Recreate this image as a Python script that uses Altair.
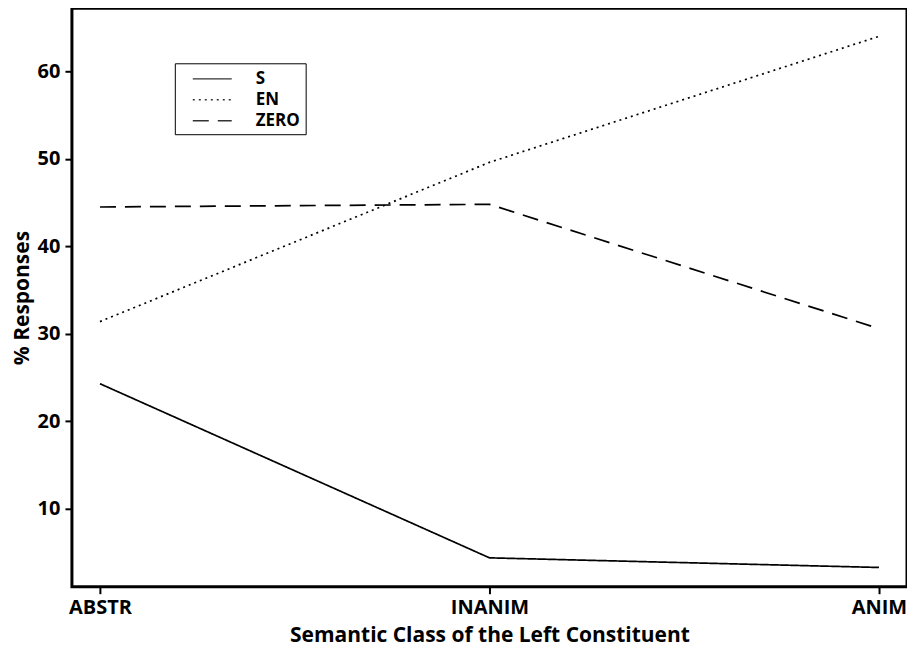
import altair as alt
import pandas as pd

categories = ["ABSTR", "INANIM", "ANIM"]
series = ["S", "EN", "ZERO"]
s_values = [24.3, 4.4, 3.3]
en_values = [31.4, 49.6, 64.0]
zero_values = [44.5, 44.8, 30.6]
y_ticks = [10, 20, 30, 40, 50, 60]

rows = []
for name, vals in zip(series, [s_values, en_values, zero_values]):
    for c, v in zip(categories, vals):
        rows.append({"cls": c, "resp": name, "pct": v})
df = pd.DataFrame(rows)

FONT = "Open Sans"

chart = alt.Chart(df).mark_line(color="black", strokeWidth=1.7).encode(
    x=alt.X(
        "cls:N",
        sort=categories,
        scale=alt.Scale(type="point", padding=0.072),
        axis=alt.Axis(
            title="Semantic Class of the Left Constituent",
            labelAngle=0,
            labelPadding=4,
            titlePadding=7,
            titleFontSize=21,
        ),
    ),
    y=alt.Y(
        "pct:Q",
        scale=alt.Scale(domain=[1.1, 67.2], nice=False, zero=False),
        axis=alt.Axis(values=y_ticks, title="% Responses", grid=False,
                      labelPadding=5, titlePadding=5, titleFontSize=21),
    ),
    strokeDash=alt.StrokeDash(
        "resp:N",
        sort=series,
        scale=alt.Scale(domain=series, range=[[1, 0], [2, 4], [16, 9]]),
        legend=alt.Legend(
            title=None,
            orient="none",
            legendX=103,
            legendY=55,
            symbolType="M-2,0H2",
            symbolSize=380,
            symbolStrokeColor="#333333",
            symbolStrokeWidth=1.3,
            labelFont=FONT,
            labelFontSize=17,
            labelFontWeight="bold",
            labelColor="black",
            padding=5,
            symbolOffset=22,
            labelOffset=33,
            strokeColor="black",
            fillColor="white",
            rowPadding=2,
        ),
    ),
).properties(
    width=836,
    height=579,
    padding={"left": 3, "top": 0, "right": 0, "bottom": 4},
).configure_view(
    stroke="black", strokeWidth=3
).configure_axis(
    domain=False,
    ticks=True,
    tickColor="black",
    tickWidth=2,
    tickSize=7,
    labelFont=FONT,
    labelFontSize=20,
    labelFontWeight="bold",
    labelColor="black",
    titleFont=FONT,
    titleFontWeight="bold",
    titleColor="black",
)

chart.save("out.html", embed_options={"renderer": "svg", "actions": False})
